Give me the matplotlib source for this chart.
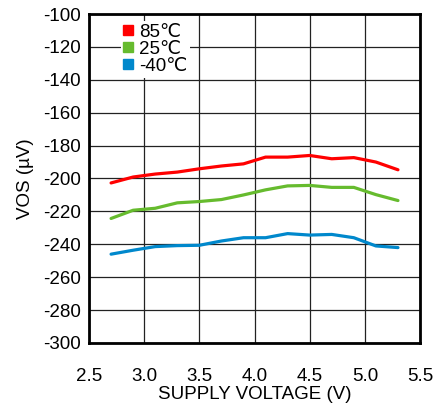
import matplotlib
matplotlib.use("Agg")
import matplotlib.pyplot as plt
from matplotlib.lines import Line2D

plt.rcParams['font.family'] = ['Liberation Sans', 'DejaVu Sans']
plt.rcParams['axes.unicode_minus'] = False

# tensão de alimentação (V)
tensao = [2.7, 2.9, 3.1, 3.3, 3.5, 3.7, 3.9, 4.1, 4.3, 4.5, 4.7, 4.9, 5.1, 5.3]

# VOS (uV) por temperatura
vos_85 = [-202.7, -199.1, -197.3, -196.1, -194.1, -192.4, -191.1,
          -187.0, -187.0, -186.0, -188.0, -187.3, -190.0, -194.7]
vos_25 = [-224.3, -219.3, -218.1, -214.8, -214.0, -212.8, -210.0,
          -206.9, -204.5, -204.2, -205.4, -205.4, -209.8, -213.4]
vos_m40 = [-246.0, -243.6, -241.4, -240.8, -240.6, -238.0, -236.0,
           -236.0, -233.5, -234.4, -234.0, -236.0, -241.0, -242.0]

rotulos = ['85℃', '25℃', '-40℃']
cores = ['#ff0000', '#66bb2e', '#0088cc']

x_ticks = [2.5, 3.0, 3.5, 4.0, 4.5, 5.0, 5.5]
y_ticks = list(range(-300, -99, 20))

fig = plt.figure(figsize=(4.4, 4.12), dpi=100)
ax = fig.add_axes([0.2023, 0.1675, 0.7523, 0.7985])

for serie, cor in zip([vos_85, vos_25, vos_m40], cores):
    ax.plot(tensao, serie, color=cor, lw=2.3, solid_capstyle='round', zorder=3)

ax.set_xlim(2.5, 5.5)
ax.set_ylim(-300, -100)
ax.set_xticks(x_ticks)
ax.set_xticklabels([f'{v:.1f}' for v in x_ticks])
ax.set_yticks(y_ticks)
ax.tick_params(length=0, labelsize=13.5)
ax.tick_params(axis='x', pad=18)
ax.tick_params(axis='y', pad=6)
ax.grid(True, color='#222222', lw=0.9)
for s in ax.spines.values():
    s.set_linewidth(2)
    s.set_zorder(6)

ax.set_xlabel('SUPPLY VOLTAGE (V)', fontsize=13.5, labelpad=1)
ax.set_ylabel('VOS (µV)', fontsize=13.5, labelpad=6)

# legenda com quadrados
alcas = [Line2D([], [], marker='s', ls='none', color=c, markersize=6.5) for c in cores]
leg = ax.legend(alcas, rotulos, loc='upper left', bbox_to_anchor=(0.068, 1.008),
                fontsize=13.5, frameon=True, fancybox=False, framealpha=1,
                edgecolor='none', handlelength=0.5, handletextpad=0.3,
                labelspacing=0.0, borderpad=0.15)
leg.set_zorder(5)

fig.savefig('out.png', dpi=100)
